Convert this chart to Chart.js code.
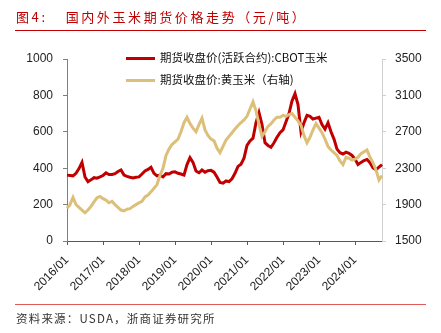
<!DOCTYPE html>
<html lang="zh-CN">
<head>
<meta charset="UTF-8">
<title>国内外玉米期货价格走势</title>
<script src="https://cdn.jsdelivr.net/npm/chart.js@4.4.1/dist/chart.umd.min.js"></script>
<style>
    body { margin: 0; background: #fff; }
    #wrap { position: relative; width: 441px; height: 333px; overflow: hidden; }
    #myChart { position: absolute; left: 0; top: 0; }
    #title { position: absolute; left: 16px; top: 7px; color: #c00000; font: 13px "Noto Sans CJK SC"; letter-spacing: 2.6px; white-space: nowrap; }
    #title .num { margin-right: 18px; }
    .rule { position: absolute; left: 15px; width: 411px; height: 1px; }
    #source { position: absolute; left: 16px; top: 310px; color: #333; font: 11.5px "Noto Sans CJK SC"; letter-spacing: 1.2px; white-space: nowrap; }
    #legend { position: absolute; left: 126px; top: 49px; font: 11.5px "Noto Sans CJK SC"; color: #111; }
    .item { position: relative; height: 22px; white-space: nowrap; }
    .item span.swatch { position: absolute; left: 0; top: 8px; width: 29px; height: 3px; }
    .item span.txt { position: absolute; left: 34px; top: 0; }
</style>
</head>
<body>
<div id="wrap">
    <canvas id="myChart" width="441" height="333"></canvas>
    <div id="title"><span class="num">图4:</span>国内外玉米期货价格走势（元/吨）</div>
    <div class="rule" style="top:30px;background:#c00000"></div>
    <div class="rule" style="top:304px;background:#e05a5a"></div>
    <div id="source">资料来源：USDA，浙商证券研究所</div>
    <div id="legend"></div>
</div>

<script>
    // month labels, 2016/01 .. 2024/10
    var startYear = 2016;
    var monthCount = 106;
    var months = [];
    for (var i = 0; i < monthCount; i++) {
        var y = startYear + Math.floor(i / 12);
        var m = (i % 12) + 1;
        months.push(y + '/' + (m < 10 ? '0' + m : m));
    }

    // 期货收盘价(活跃合约):CBOT玉米, left axis
    var cbotCorn = [
        362, 360, 358, 372, 398, 432, 352, 326, 336, 348, 345, 352,
        360, 374, 365, 366, 370, 382, 390, 362, 355, 350, 346, 350,
        352, 368, 385, 393, 405, 372, 358, 362, 352, 370, 368, 378,
        380, 372, 368, 362, 420, 458, 432, 385, 375, 390, 378, 386,
        388, 378, 352, 322, 318, 330, 326, 342, 372, 410, 422, 455,
        525, 550, 565, 650, 705, 640, 540, 525, 515, 540, 570, 595,
        610, 655, 700, 770, 810, 750, 600, 650, 690, 685, 670, 675,
        680, 640, 615, 650, 600, 560, 505, 485, 478, 488, 482, 470,
        450, 420, 432, 442, 448, 430, 402, 392, 406, 420
    ];

    // 期货收盘价:黄玉米, right axis
    var dceCorn = [
        1860, 1900, 1980, 1900, 1870, 1840, 1810, 1840, 1880, 1930, 1975, 1990,
        1965, 1950, 1920, 1935, 1900, 1870, 1840, 1830, 1850, 1855, 1880, 1900,
        1920, 1935, 1985, 2005, 2040, 2080, 2120, 2220, 2300, 2440, 2510, 2560,
        2590, 2620, 2700, 2800, 2860, 2790, 2740, 2700, 2780, 2850, 2720, 2660,
        2620, 2600, 2520, 2470, 2540, 2610, 2650, 2690, 2730, 2770, 2800, 2830,
        2870, 2950, 3030, 2930, 2780, 2650, 2700, 2760, 2790, 2830, 2860, 2860,
        2880, 2870, 2890, 2900, 2860, 2820, 2770, 2660, 2580, 2640, 2720, 2790,
        2740, 2690, 2620, 2540, 2500, 2470, 2440, 2380, 2340, 2420, 2410, 2390,
        2400, 2420, 2460, 2480, 2500, 2420, 2360, 2280, 2170, 2220
    ];

    var seriesNames = ['期货收盘价(活跃合约):CBOT玉米', '期货收盘价:黄玉米（右轴)'];
    var seriesColors = ['#c00000', '#dcc07a'];

    var tickFont = { family: 'Arial, "Liberation Sans"', size: 12 };
    var plain = function (value) { return String(value); };

    var ctx = document.getElementById('myChart').getContext('2d');
    var myChart = new Chart(ctx, {
        type: 'line',
        data: {
            labels: months,
            datasets: [{
                label: seriesNames[0],
                data: cbotCorn,
                yAxisID: 'y',
                borderColor: seriesColors[0],
                borderWidth: 3,
                pointRadius: 0,
                tension: 0,
                order: 1
            }, {
                label: seriesNames[1],
                data: dceCorn,
                yAxisID: 'y1',
                borderColor: seriesColors[1],
                borderWidth: 3,
                pointRadius: 0,
                tension: 0,
                order: 0
            }]
        },
        options: {
            responsive: false,
            animation: false,
            layout: { padding: { top: 59, left: 0, right: 0, bottom: 0 } },
            plugins: {
                legend: { display: false },
                tooltip: { enabled: false }
            },
            scales: {
                x: {
                    offset: false,
                    grid: { drawOnChartArea: false, tickLength: 4, color: '#595959' },
                    border: { color: '#595959', width: 1 },
                    ticks: {
                        autoSkip: false,
                        minRotation: 45,
                        maxRotation: 45,
                        padding: 8,
                        color: '#222',
                        font: tickFont,
                        callback: function (value, index) {
                            return index % 12 === 0 ? months[index] : null;
                        }
                    },
                    afterFit: function (scale) { scale.height = 92; }
                },
                y: {
                    position: 'left',
                    min: 0,
                    max: 1000,
                    grid: { drawOnChartArea: false, tickLength: 4, color: '#7f7f7f' },
                    border: { color: '#7f7f7f', width: 1 },
                    ticks: { stepSize: 200, padding: 10, color: '#222', font: tickFont, callback: plain },
                    afterFit: function (scale) { scale.width = 67; }
                },
                y1: {
                    position: 'right',
                    min: 1500,
                    max: 3500,
                    grid: { drawOnChartArea: false, tickLength: 4, color: '#cfcfcf' },
                    border: { color: '#cfcfcf', width: 1 },
                    ticks: { stepSize: 400, padding: 9, color: '#222', font: tickFont, callback: plain },
                    afterFit: function (scale) { scale.width = 59; }
                }
            }
        }
    });

    // legend as html, from the dataset names and colours
    var legend = document.getElementById('legend');
    myChart.data.datasets.forEach(function (ds) {
        var item = document.createElement('div');
        item.className = 'item';
        item.innerHTML = '<span class="swatch" style="background:' + ds.borderColor + '"></span><span class="txt">' + ds.label + '</span>';
        legend.appendChild(item);
    });
</script>
</body>
</html>
